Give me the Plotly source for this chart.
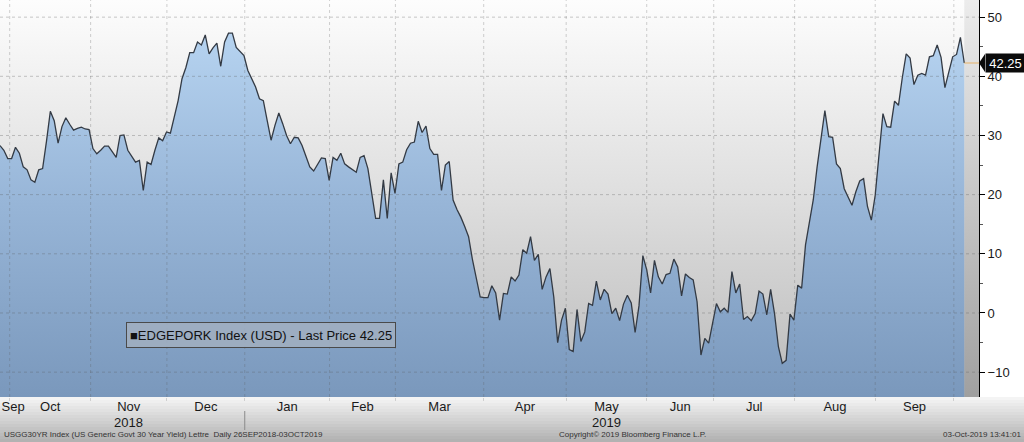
import plotly.graph_objects as go

# ---------------- data ----------------
values = [
    28.3, 27.5, 26.1, 26.1, 28.0, 27.0, 24.7, 24.2, 22.5, 22.1,
    24.2, 24.4, 29.0, 34.1, 32.5, 28.7, 31.5, 33.0, 31.9, 30.9,
    31.2, 31.4, 31.1, 31.0, 27.8, 26.9, 27.5, 28.2, 28.2, 27.3,
    26.3, 30.0, 30.1, 27.5, 26.4, 25.5, 25.8, 20.7, 25.5, 25.1,
    27.5, 29.6, 29.1, 30.6, 30.4, 33.0, 35.9, 39.6, 41.5, 44.0,
    44.0, 45.8, 45.3, 47.0, 43.8, 44.8, 45.6, 41.7, 45.8, 47.3,
    47.3, 44.9, 44.2, 43.5, 41.0, 39.6, 38.2, 36.2, 35.9, 32.5,
    29.2, 31.7, 33.8, 32.0, 30.0, 28.6, 29.7, 29.6, 28.3, 26.5,
    24.7, 24.0, 25.0, 26.2, 26.1, 22.4, 26.3, 25.8, 27.0, 25.2,
    24.7, 24.2, 23.8, 26.3, 26.6, 24.4, 20.2, 16.0, 16.0, 22.5,
    16.0, 23.7, 20.2, 25.2, 25.5, 27.6, 28.7, 28.9, 32.4, 30.5,
    31.6, 27.8, 26.8, 26.8, 20.7, 25.0, 25.6, 19.1, 17.5, 16.2,
    14.6, 12.9, 9.0, 5.6, 2.7, 2.6, 2.6, 4.6, 3.4, -1.2,
    3.3, 3.2, 6.1, 5.4, 6.4, 10.7, 10.1, 12.9, 8.9, 9.9,
    4.0, 6.1, 7.5, 2.7, -5.0, -1.2, 0.8, -6.2, -6.5, 0.6,
    -4.8, -3.2, 1.6, 1.3, 5.4, 2.2, 4.0, 3.2, -0.1, 0.8,
    -1.3, 1.5, 3.0, 1.7, -3.3, 1.2, 9.7, 7.3, 3.4, 8.9,
    6.1, 4.9, 6.5, 6.7, 9.1, 7.8, 2.9, 6.6, 6.0, 5.6,
    1.9, -7.1, -4.3, -5.1, -1.5, 1.6, 0.2, 0.8, 0.1, 7.0,
    3.4, 4.9, -1.1, -0.6, -1.3, -0.1, 3.7, 3.2, -0.3, 4.0,
    -0.1, -5.7, -8.5, -8.0, -0.2, -1.2, 4.7, 4.2, 11.5, 15.1,
    19.1, 24.7, 29.5, 34.2, 29.8, 29.7, 25.2, 24.4, 21.0, 19.7,
    18.2, 20.5, 22.3, 22.7, 18.0, 15.7, 19.9, 26.9, 33.7, 31.5,
    31.4, 35.8, 35.1, 39.8, 43.8, 43.1, 38.6, 40.2, 40.5, 40.2,
    43.3, 43.5, 45.3, 43.2, 38.1, 40.7, 43.3, 43.7, 46.6, 42.25,
]

# month boundaries, in observation-index units (first trading day of each month)
month_bounds = [2.5, 23.4, 43.1, 63.2, 85.1, 102.1, 124.9, 146.2, 167.0,
                184.3, 205.2, 226.0, 246.3]
month_labels = ["Sep", "Oct", "Nov", "Dec", "Jan", "Feb", "Mar", "Apr",
                "May", "Jun", "Jul", "Aug", "Sep"]
year_labels = ["2018", "2019"]
year_label_month = [2, 8]        # year text sits under Nov / May
year_break_month = 3             # Jan boundary separates the years
y_ticks = [-10, 0, 10, 20, 30, 40, 50]
y_minor = [-5, 5, 15, 25, 35, 45]

series_name = "EDGEPORK Index (USD)"
footer_left = "USGG30YR Index (US Generic Govt 30 Year Yield) Lettre  Daily 26SEP2018-03OCT2019"
footer_mid = "Copyright\u00a9 2019 Bloomberg Finance L.P."
footer_right = "03-Oct-2019 13:41:01"

# ---------------- layout constants ----------------
W, H = 1024, 442
PLOT_W, PLOT_H = 979, 397
Y_MIN, Y_MAX = -14.2, 52.9
X_MAX = 252.8
FONT = "Liberation Sans"

n = len(values)
x = list(range(n))
x_last = n - 1
last_price = values[-1]

label_pos = [month_bounds[0] + 0.9] + [
    (a + b) / 2 for a, b in zip(month_bounds[:-1], month_bounds[1:])
]


def py(pix):
    """pixel row -> paper y"""
    return (PLOT_H - pix) / PLOT_H


def px(pix):
    return pix / PLOT_W


fig = go.Figure()

# plot background gradient (white top -> gray bottom)
fig.add_trace(go.Scatter(x=[0, X_MAX], y=[Y_MIN, Y_MIN], mode="lines",
                         line=dict(width=0), hoverinfo="skip", showlegend=False))
fig.add_trace(go.Scatter(
    x=[0, X_MAX], y=[Y_MAX, Y_MAX], mode="lines", line=dict(width=0),
    fill="tonexty",
    fillgradient=dict(type="vertical", start=Y_MIN, stop=Y_MAX,
                      colorscale=[[0, "rgb(186,186,186)"], [0.5, "rgb(222,222,222)"],
                                  [1, "rgb(253,253,253)"]]),
    hoverinfo="skip", showlegend=False))

# darker strip after the last observation
fig.add_trace(go.Scatter(x=[x_last, X_MAX], y=[Y_MIN, Y_MIN], mode="lines",
                         line=dict(width=0), hoverinfo="skip", showlegend=False))
fig.add_trace(go.Scatter(
    x=[x_last, X_MAX], y=[Y_MAX, Y_MAX], mode="lines", line=dict(width=0),
    fill="tonexty",
    fillgradient=dict(type="vertical", start=Y_MIN, stop=Y_MAX,
                      colorscale=[[0, "rgb(160,160,160)"], [1, "rgb(236,236,236)"]]),
    hoverinfo="skip", showlegend=False))

# series area
fig.add_trace(go.Scatter(x=[0, x_last], y=[Y_MIN, Y_MIN], mode="lines",
                         line=dict(width=0), hoverinfo="skip", showlegend=False))
fig.add_trace(go.Scatter(
    x=x, y=values, mode="lines", name=series_name,
    line=dict(color="#333a44", width=1.3),
    fill="tonexty",
    fillgradient=dict(type="vertical", start=Y_MIN, stop=Y_MAX,
                      colorscale=[[0, "rgb(122,152,188)"], [0.5, "rgb(152,182,216)"],
                                  [1, "rgb(188,217,245)"]]),
    showlegend=False))

# last price line
fig.add_trace(go.Scatter(x=[x_last, X_MAX], y=[last_price, last_price], mode="lines",
                         line=dict(color="#e6b36a", width=1), hoverinfo="skip",
                         showlegend=False))

shapes = []
# gridlines drawn above the fills
for v in y_ticks:
    shapes.append(dict(type="line", xref="x", yref="y", x0=0, x1=X_MAX, y0=v, y1=v,
                       line=dict(color="rgba(90,90,90,0.32)", width=1, dash="dot"),
                       layer="above"))
for b in month_bounds:
    shapes.append(dict(type="line", xref="x", yref="y", x0=b, x1=b, y0=Y_MIN, y1=Y_MAX,
                       line=dict(color="rgba(90,90,90,0.28)", width=1, dash="dot"),
                       layer="above"))

# footer gradient bands
bands = 15
top_px, bot_px = PLOT_H, H
for k in range(bands):
    t = k / (bands - 1)
    c = int(244 - t * (244 - 178))
    y0 = top_px + (bot_px - top_px) * k / bands
    y1 = top_px + (bot_px - top_px) * (k + 1) / bands
    shapes.append(dict(type="rect", xref="paper", yref="paper",
                       x0=0, x1=px(W), y0=py(y1), y1=py(y0),
                       line=dict(width=0), fillcolor=f"rgb({c},{c},{c})", layer="below"))

# year separator
shapes.append(dict(type="line", xref="x", yref="paper",
                   x0=month_bounds[year_break_month], x1=month_bounds[year_break_month],
                   y0=py(430), y1=py(411), line=dict(color="#8a8a8a", width=1)))

# pointed left end of the last-price tag
tag_half = 9 * (Y_MAX - Y_MIN) / PLOT_H
shapes.append(dict(type="path", xref="paper", yref="y",
                   path=(f"M {px(979)},{last_price} L {px(985)},{last_price + tag_half} "
                         f"L {px(985)},{last_price - tag_half} Z"),
                   fillcolor="#0b0b0b", line=dict(width=0), layer="above"))

annotations = []
for lbl, mi in zip(year_labels, year_label_month):
    annotations.append(dict(x=label_pos[mi], xref="x", y=py(422), yref="paper",
                            text=lbl, showarrow=False, xanchor="center", yanchor="middle",
                            font=dict(family=FONT, size=13, color="#1a1a1a")))

annotations.append(dict(x=px(2), xref="paper", y=py(435), yref="paper", text=footer_left,
                        showarrow=False, xanchor="left", yanchor="middle",
                        font=dict(family=FONT, size=8, color="#333")))
annotations.append(dict(x=px(557), xref="paper", y=py(435), yref="paper", text=footer_mid,
                        showarrow=False, xanchor="left", yanchor="middle",
                        font=dict(family=FONT, size=8, color="#333")))
annotations.append(dict(x=px(W - 1), xref="paper", y=py(435), yref="paper", text=footer_right,
                        showarrow=False, xanchor="right", yanchor="middle",
                        font=dict(family=FONT, size=8, color="#333")))

# legend box
annotations.append(dict(
    x=px(126), xref="paper", y=py(334.5), yref="paper",
    text=f"\u25a0{series_name} - Last Price {last_price:.2f}",
    showarrow=False, xanchor="left", yanchor="middle", align="left",
    width=262, height=18, borderpad=3,
    bgcolor="rgba(160,174,192,0.9)", bordercolor="#4a4a4a", borderwidth=1,
    font=dict(family=FONT, size=13, color="#111")))

# last price tag
annotations.append(dict(
    x=px(985), xref="paper", y=last_price, yref="y",
    text=f"{last_price:.2f}", showarrow=False, xanchor="left", yanchor="middle",
    bgcolor="#0b0b0b", borderpad=1, width=37, height=16, align="center",
    font=dict(family=FONT, size=13, color="#ffffff")))

fig.update_layout(
    width=W, height=H,
    margin=dict(l=0, r=W - PLOT_W, t=0, b=H - PLOT_H),
    paper_bgcolor="#ffffff", plot_bgcolor="#e0e0e0",
    showlegend=False,
    shapes=shapes, annotations=annotations,
    xaxis=dict(range=[0, X_MAX], tickvals=label_pos, ticktext=month_labels,
               ticks="", showgrid=False, zeroline=False, showline=False,
               tickfont=dict(family=FONT, size=13, color="#1a1a1a"),
               minor=dict(tickvals=month_bounds, ticks="outside", ticklen=3,
                          tickcolor="#cfcfcf", showgrid=False),
               fixedrange=True),
    yaxis=dict(range=[Y_MIN, Y_MAX], side="right", tickvals=y_ticks,
               ticks="outside", ticklen=5, tickcolor="#000", showline=True,
               linecolor="#000", linewidth=1, showgrid=False, zeroline=False,
               tickfont=dict(family=FONT, size=13, color="#1a1a1a"),
               minor=dict(tickvals=y_minor, ticks="outside", ticklen=3,
                          tickcolor="#555"),
               fixedrange=True),
)

fig.write_html(
    "out.html",
    config={"displayModeBar": False},
    post_script="document.body.style.margin='0';document.body.style.padding='0';"
                "document.body.style.overflow='hidden';",
)
